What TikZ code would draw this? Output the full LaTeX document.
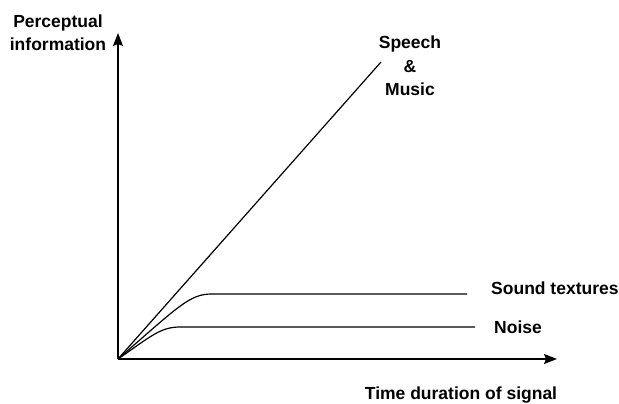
\documentclass[tikz,border=0pt]{standalone}
\usepackage{fontspec}
\setmainfont{Liberation Sans}
\usetikzlibrary{arrows.meta}

\begin{document}
\begin{tikzpicture}[x=1pt,y=1pt]

\tikzset{axis/.style = {line width=1.2pt,-{Stealth[length=13pt,width=10pt,inset=2pt]}}}
\tikzset{curve/.style = {line width=1.2pt}}
\tikzset{label/.style = {font=\fontsize{17.5}{23.5}\selectfont\bfseries, align=center, inner sep=0pt}}

\useasboundingbox (0,0) rectangle (619,404);

% axes
\coordinate (O) at (118,45);
\coordinate (ytip) at (118,371);
\coordinate (xtip) at (557,45);
\draw[axis] (O) to (ytip);
\draw[axis] (O) to (xtip);

% curve end points
\coordinate (speech) at (381,342);
\coordinate (sound) at (467,110);
\coordinate (noise) at (475,77);

% curves
\draw[curve] (O) to (speech);
\draw[curve] (O) .. controls (180,99) and (190,110) .. (212,110) -- (sound);
\draw[curve] (O) .. controls (150,67) and (160,77) .. (180,77) -- (noise);

% labels
\node[label] (ylab) at (58,371) {Perceptual\\information};
\node[label, anchor=base] (xlab) at (461,4) {Time duration of signal};
\node[label] (speechlab) at (410,338) {Speech\\\&\\Music};
\node[label, anchor=west] (soundlab) at (491,116) {Sound textures};
\node[label, anchor=west] (noiselab) at (494,77) {Noise};

\end{tikzpicture}
\end{document}
